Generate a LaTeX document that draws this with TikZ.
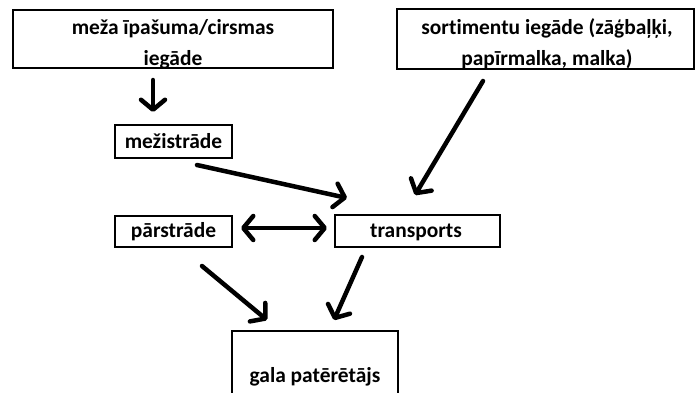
\documentclass[tikz,border=0pt]{standalone}
\usepackage{fontspec}
\setmainfont{Carlito}[Ligatures=CommonOff]
\usetikzlibrary{arrows.meta}
\tikzset{
  box/.style={draw, line width=2.6bp, inner sep=0pt, font=\bfseries\fontsize{21.5}{25}\selectfont, align=center},
  arr/.style={line width=4.5bp, -{Straight Barb[length=10bp, width=24bp, round]}, line cap=round},
  darr/.style={line width=4.5bp, {Straight Barb[length=10bp, width=24bp, round]}-{Straight Barb[length=10bp, width=24bp, round]}},
  lbl/.style={inner sep=0pt, font=\bfseries\fontsize{21.5}{25}\selectfont}
}
\begin{document}
\begin{tikzpicture}[x=1bp, y=-1bp]
\useasboundingbox (0,0) rectangle (695,392);
\node[box, minimum width=320bp, minimum height=58bp] (buy) at (173,39) {};
\node[lbl, align=center] (buyt) at (173,44) {meža īpašuma/cirsmas\\[6bp]iegāde};
\node[box, minimum width=297bp, minimum height=60bp] (sort) at (545.5,39) {};
\node[lbl, align=center] (sortt) at (547,44) {sortimentu iegāde (zāģbaļķi,\\[6bp]papīrmalka, malka)};
\node[box, minimum width=117bp, minimum height=33bp] (mez) at (173.5,141.5) {mežistrāde};
\node[box, minimum width=117bp, minimum height=31bp] (pars) at (173.5,231.5) {pārstrāde};
\node[box, minimum width=165bp, minimum height=32bp] (trans) at (417.5,231) {};
\node[lbl] (transt) at (416,232.5) {transports};
\node[box, minimum width=166bp, minimum height=70bp] (gala) at (315,366) {};
\node[lbl] (galat) at (315,377) {gala patērētājs};
\coordinate (a1s) at (153,80);
\coordinate (a1e) at (153,112);
\coordinate (a2s) at (197,165);
\coordinate (a2e) at (347,198);
\coordinate (a3s) at (483,81);
\coordinate (a3e) at (415,195);
\coordinate (a4s) at (241,228);
\coordinate (a4e) at (327,228);
\coordinate (a5s) at (202,266);
\coordinate (a5e) at (267,320);
\coordinate (a6s) at (362,257);
\coordinate (a6e) at (334,320);
\draw[arr] (a1s) -- (a1e);
\draw[arr] (a2s) -- (a2e);
\draw[arr] (a3s) -- (a3e);
\draw[darr] (a4s) -- (a4e);
\draw[arr] (a5s) -- (a5e);
\draw[arr] (a6s) -- (a6e);
\end{tikzpicture}
\end{document}
